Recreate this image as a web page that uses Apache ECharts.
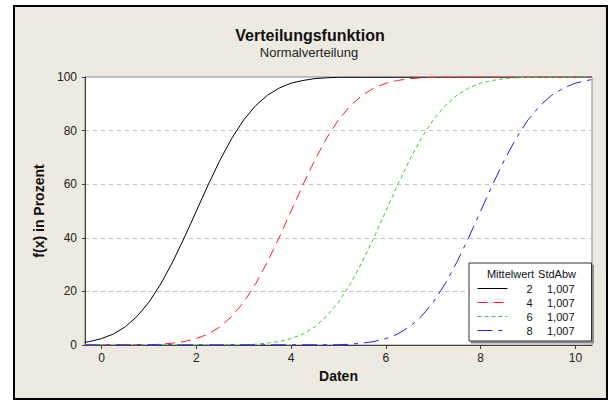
<!DOCTYPE html>
<html>
<head>
<meta charset="utf-8">
<script src="https://cdn.jsdelivr.net/npm/echarts@6/dist/echarts.min.js"></script>
<style>
  html, body { margin: 0; padding: 0; background: #ffffff; }
  #frame { position: absolute; left: 13px; top: 5px; width: 595px; height: 395px; box-sizing: border-box; border: 2px solid #000; background: #EEEAE1; }
  #chart { position: absolute; left: 0; top: 0; width: 609px; height: 401px; }
</style>
</head>
<body>
<div id="frame"></div>
<div id="chart"></div>
<script>
// ---- data ----
const titleText = 'Verteilungsfunktion';
const subtitleText = 'Normalverteilung';
const xName = 'Daten';
const yName = 'f(x) in Prozent';
const xTicks = [0, 2, 4, 6, 8, 10];
const means = ['2', '4', '6', '8'];
const stdevs = ['1,007', '1,007', '1,007', '1,007'];

const xMean2 = [-0.35, -0.25, 0, 0.25, 0.5, 0.75, 1, 1.25, 1.5, 1.75, 2, 2.25, 2.5, 2.75, 3, 3.25, 3.5, 3.75, 4, 4.25, 4.5, 4.75, 5, 10.35];
const yMean2 = [1.0, 1.3, 2.4, 4.1, 6.8, 10.7, 16.0, 22.8, 31.0, 40.2, 50.0, 59.8, 69.0, 77.2, 84.0, 89.3, 93.2, 95.9, 97.7, 98.7, 99.4, 99.7, 99.9, 100];

const xMean4 = [-0.35, 1, 1.25, 1.5, 1.75, 2, 2.25, 2.5, 2.75, 3, 3.25, 3.5, 3.75, 4, 4.25, 4.5, 4.75, 5, 5.25, 5.5, 5.75, 6, 6.25, 6.5, 6.75, 7, 10.35];
const yMean4 = [0, 0.1, 0.3, 0.7, 1.3, 2.4, 4.1, 6.8, 10.7, 16.0, 22.8, 31.0, 40.2, 50.0, 59.8, 69.0, 77.2, 84.0, 89.3, 93.2, 95.9, 97.7, 98.7, 99.4, 99.7, 99.9, 100];

const xMean6 = [-0.35, 3, 3.25, 3.5, 3.75, 4, 4.25, 4.5, 4.75, 5, 5.25, 5.5, 5.75, 6, 6.25, 6.5, 6.75, 7, 7.25, 7.5, 7.75, 8, 8.25, 8.5, 8.75, 9, 10.35];
const yMean6 = [0, 0.1, 0.3, 0.7, 1.3, 2.4, 4.1, 6.8, 10.7, 16.0, 22.8, 31.0, 40.2, 50.0, 59.8, 69.0, 77.2, 84.0, 89.3, 93.2, 95.9, 97.7, 98.7, 99.4, 99.7, 99.9, 100];

const xMean8 = [-0.35, 5, 5.25, 5.5, 5.75, 6, 6.25, 6.5, 6.75, 7, 7.25, 7.5, 7.75, 8, 8.25, 8.5, 8.75, 9, 9.25, 9.5, 9.75, 10, 10.25, 10.35];
const yMean8 = [0, 0.1, 0.3, 0.7, 1.3, 2.4, 4.1, 6.8, 10.7, 16.0, 22.8, 31.0, 40.2, 50.0, 59.8, 69.0, 77.2, 84.0, 89.3, 93.2, 95.9, 97.7, 98.7, 99.1];

// ---- chart ----
const pairs = (xs, ys) => xs.map((x, i) => [x, ys[i]]);
const seriesXs = [xMean2, xMean4, xMean6, xMean8];
const seriesYs = [yMean2, yMean4, yMean6, yMean8];
const colors = ['#000000', '#ff1e1e', '#3ec43e', '#1e1eff'];
const dashes = ['solid', [10, 6], [4, 3], [15, 6, 4, 6]];

const FONT = '"Liberation Sans", Arial, sans-serif';

const chart = echarts.init(document.getElementById('chart'), null, { renderer: 'svg' });
const sdByName = {};
means.forEach((m, i) => { sdByName[m] = stdevs[i]; });

chart.setOption({
  animation: false,
  backgroundColor: 'transparent',
  textStyle: { fontFamily: FONT },
  grid: {
    left: 85, top: 77, right: 17, bottom: 56,
    show: true, backgroundColor: '#ffffff', borderColor: '#8a8a8a', borderWidth: 1
  },
  xAxis: {
    type: 'value', min: -0.35, max: 10.35,
    name: xName, nameLocation: 'middle', nameGap: 23,
    nameTextStyle: { fontFamily: FONT, fontSize: 14, fontWeight: 'bold', color: '#111' },
    axisLine: { show: true, onZero: false, lineStyle: { color: '#404040', width: 1 } },
    axisTick: { show: true, length: 4, customValues: xTicks, lineStyle: { color: '#404040' } },
    axisLabel: { customValues: xTicks, margin: 7, fontSize: 12, color: '#222', fontFamily: FONT },
    splitLine: { show: false }
  },
  yAxis: {
    type: 'value', min: 0, max: 100, interval: 20,
    name: yName, nameLocation: 'middle', nameGap: 38, nameRotate: 90,
    nameTextStyle: { fontFamily: FONT, fontSize: 14, fontWeight: 'bold', color: '#111' },
    axisLine: { show: true, onZero: false, lineStyle: { color: '#404040', width: 1 } },
    axisTick: { show: true, length: 3, lineStyle: { color: '#404040' } },
    axisLabel: { margin: 8, fontSize: 12, color: '#222', fontFamily: FONT },
    splitLine: { show: true, lineStyle: { color: '#c4c4c4', type: [4, 4], width: 1 } }
  },
  legend: {
    orient: 'vertical', left: 469, top: 263,
    padding: [20, 17, 5, 8],
    itemWidth: 30, itemHeight: 11, itemGap: 3, itemTextGap: 5,
    backgroundColor: '#ffffff', borderColor: '#333333', borderWidth: 1,
    shadowColor: '#8a8a8a', shadowOffsetX: 2, shadowOffsetY: 2, shadowBlur: 0,
    selectedMode: false,
    itemStyle: { color: 'transparent', borderWidth: 0, opacity: 0 },
    lineStyle: { width: 1 },
    data: means,
    formatter: name => '{m|' + name + '}{s|' + sdByName[name] + '}',
    textStyle: {
      fontFamily: FONT, fontSize: 11, color: '#111',
      rich: {
        m: { width: 20, align: 'right', fontFamily: FONT, fontSize: 11, color: '#111' },
        s: { width: 42, align: 'right', fontFamily: FONT, fontSize: 11, color: '#111' }
      }
    }
  },
  graphic: [
    { type: 'text', z: 100, zlevel: 0, style: { text: titleText, x: 310, y: 35, textAlign: 'center', textVerticalAlign: 'middle', font: 'bold 16px ' + FONT, fill: '#111' } },
    { type: 'text', z: 100, zlevel: 0, style: { text: subtitleText, x: 309, y: 52, textAlign: 'center', textVerticalAlign: 'middle', font: '13px ' + FONT, fill: '#222' } },
    { type: 'text', z: 100, zlevel: 0, style: { text: 'Mittelwert', x: 534, y: 274, textAlign: 'right', textVerticalAlign: 'middle', font: '11px ' + FONT, fill: '#111' } },
    { type: 'text', z: 100, zlevel: 0, style: { text: 'StdAbw', x: 576, y: 274, textAlign: 'right', textVerticalAlign: 'middle', font: '11px ' + FONT, fill: '#111' } }
  ],
  series: means.map((m, i) => ({
    name: m,
    type: 'line',
    data: pairs(seriesXs[i], seriesYs[i]),
    showSymbol: false,
    symbol: 'none',
    smooth: false,
    color: colors[i],
    lineStyle: { color: colors[i], width: 1, type: dashes[i] },
    emphasis: { disabled: true }
  }))
});
</script>
</body>
</html>
